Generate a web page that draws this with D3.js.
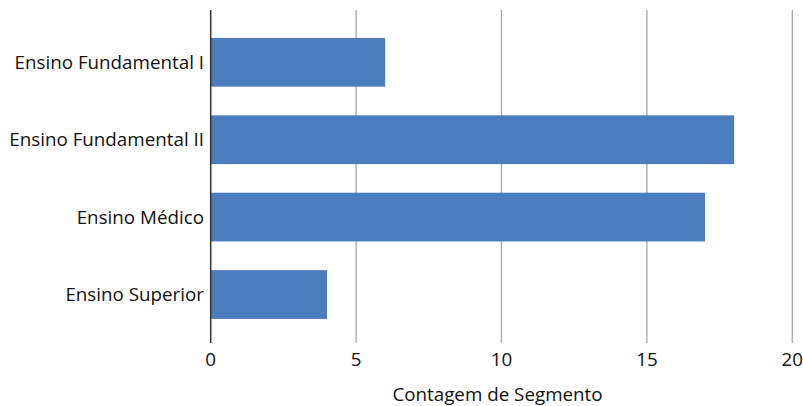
<!DOCTYPE html>
<html>
<head>
<meta charset="utf-8">
<script src="https://cdn.jsdelivr.net/npm/d3@7"></script>
<style>
  html, body { margin: 0; padding: 0; background: #fff; }
  svg text { font-family: "Open Sans", "Noto Sans", sans-serif; fill: #111; }
</style>
</head>
<body>
<svg id="chart" width="803" height="406"></svg>
<script>
// Education level segments and their counts
const categories = ["Ensino Fundamental I", "Ensino Fundamental II", "Ensino Médico", "Ensino Superior"];
const counts = [6, 18, 17, 4];
const xTicks = [0, 5, 10, 15, 20];
const xTitle = "Contagem de Segmento";

const svg = d3.select("#chart");
const fontSize = 18.8;

const x = d3.scaleLinear().domain([0, 20]).range([210.7, 792.3]);
const y = d3.scaleBand().domain(categories).range([23.6, 333.2]).paddingInner(0.37).paddingOuter(0.185);

const plotTop = 10, plotBottom = 343;

// vertical gridlines (all ticks except zero)
svg.append("g")
  .selectAll("line")
  .data(xTicks.filter(d => d !== 0))
  .join("line")
  .attr("x1", d => x(d)).attr("x2", d => x(d))
  .attr("y1", plotTop).attr("y2", plotBottom)
  .attr("stroke", "#a6a6a6")
  .attr("stroke-width", 1.3);

// bars
svg.append("g")
  .selectAll("rect")
  .data(categories)
  .join("rect")
  .attr("x", x(0))
  .attr("y", d => y(d))
  .attr("width", (d, i) => x(counts[i]) - x(0))
  .attr("height", y.bandwidth())
  .attr("fill", "#4b7cbe");

// zero baseline
svg.append("line")
  .attr("x1", x(0)).attr("x2", x(0))
  .attr("y1", plotTop).attr("y2", plotBottom)
  .attr("stroke", "#333")
  .attr("stroke-width", 1.5);

// x tick labels
svg.append("g")
  .selectAll("text")
  .data(xTicks)
  .join("text")
  .attr("x", d => x(d))
  .attr("y", 366)
  .attr("text-anchor", "middle")
  .attr("font-size", fontSize)
  .text(d => d);

// category labels
svg.append("g")
  .selectAll("text")
  .data(categories)
  .join("text")
  .attr("x", 204)
  .attr("y", d => y(d) + y.bandwidth() / 2)
  .attr("dy", "0.35em")
  .attr("text-anchor", "end")
  .attr("font-size", fontSize)
  .text(d => d);

// axis title
svg.append("text")
  .attr("x", (x(0) + x(20)) / 2 - 4)
  .attr("y", 401)
  .attr("text-anchor", "middle")
  .attr("font-size", fontSize)
  .text(xTitle);
</script>
</body>
</html>
